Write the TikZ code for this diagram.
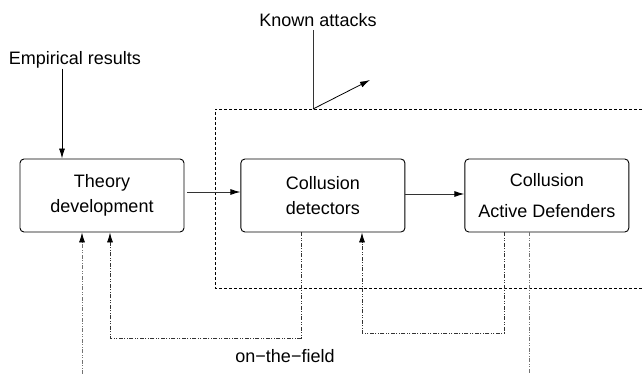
\documentclass[tikz,border=0pt]{standalone}
\usepackage{fontspec}
\setmainfont{Liberation Sans}
\usetikzlibrary{positioning,calc}
\usetikzlibrary{arrows.meta}
\tikzset{blk/.style={draw=black,rounded corners=4pt,line width=0.9pt,minimum width=164pt,minimum height=73pt,inner sep=2pt,align=center,font=\fontsize{18}{25}\selectfont}, lbl/.style={inner sep=0pt,font=\fontsize{18}{22}\selectfont}, fwd/.style={-{Latex[length=10pt,width=6pt,color=black]},line width=0.9pt}, fb/.style={dash pattern=on 4pt off 1.5pt on 1pt off 1.5pt on 1pt off 1.5pt,line width=0.8pt}, zone/.style={dash pattern=on 3pt off 2pt,line width=0.8pt}}

\begin{document}
\begin{tikzpicture}[x=1pt,y=-1pt]
\useasboundingbox (0,0) rectangle (642,374);
\node[blk] (theory) at (102,195.5) {Theory\\development};
\node[blk,right=56pt of theory] (det) {Collusion\\detectors};
\node[blk,right=59pt of det] (def) {Collusion\\[6pt]Active Defenders};
\node[lbl] (emp) at (75,60) {Empirical results};
\node[lbl] (known) at (318,20) {Known attacks};
\node[lbl] (field) at (285,356) {on−the−field};
% zone of the field
\draw[zone] (642,109) -- (215,109) -- (215,288) -- (642,288);
\coordinate (kat) at (313,109);
\coordinate (ktip) at (370,80);
\coordinate (lowB) at (110,338);
\coordinate (lowC) at (362,333);
\coordinate (endA) at (82,374);
\coordinate (endD) at (529,374);
\draw[fwd] ([xshift=-13pt]emp.south) -- ([xshift=-13pt]emp.south |- theory.north);
\draw[line width=0.8pt,draw=black!80] ([xshift=-5pt,yshift=-3pt]known.south) -- (kat);
\draw[fwd,line width=0.8pt] (kat) -- (ktip);
\draw[fwd,draw=black!80] ([xshift=3pt,yshift=3.5pt]theory.east) -- ([yshift=3.5pt]det.west);
\draw[fwd,draw=black!80] ([yshift=1.5pt]det.east) -- ([yshift=1.5pt]def.west);
% feedback from the field
\draw[fb,fwd,line width=0.8pt,draw=black!55] (endA) -- (endA |- theory.south);
\draw[fb,fwd,line width=0.8pt,draw=black!80] ([xshift=-22pt]det.south) |- (lowB) -- (lowB |- theory.south);
\draw[fb,fwd,line width=0.8pt,draw=black!80] ([xshift=-42.5pt]def.south) |- (lowC) -- (lowC |- det.south);
\draw[fb,line width=0.8pt,draw=black!55] (endD |- def.south) -- (endD);
\end{tikzpicture}
\end{document}
